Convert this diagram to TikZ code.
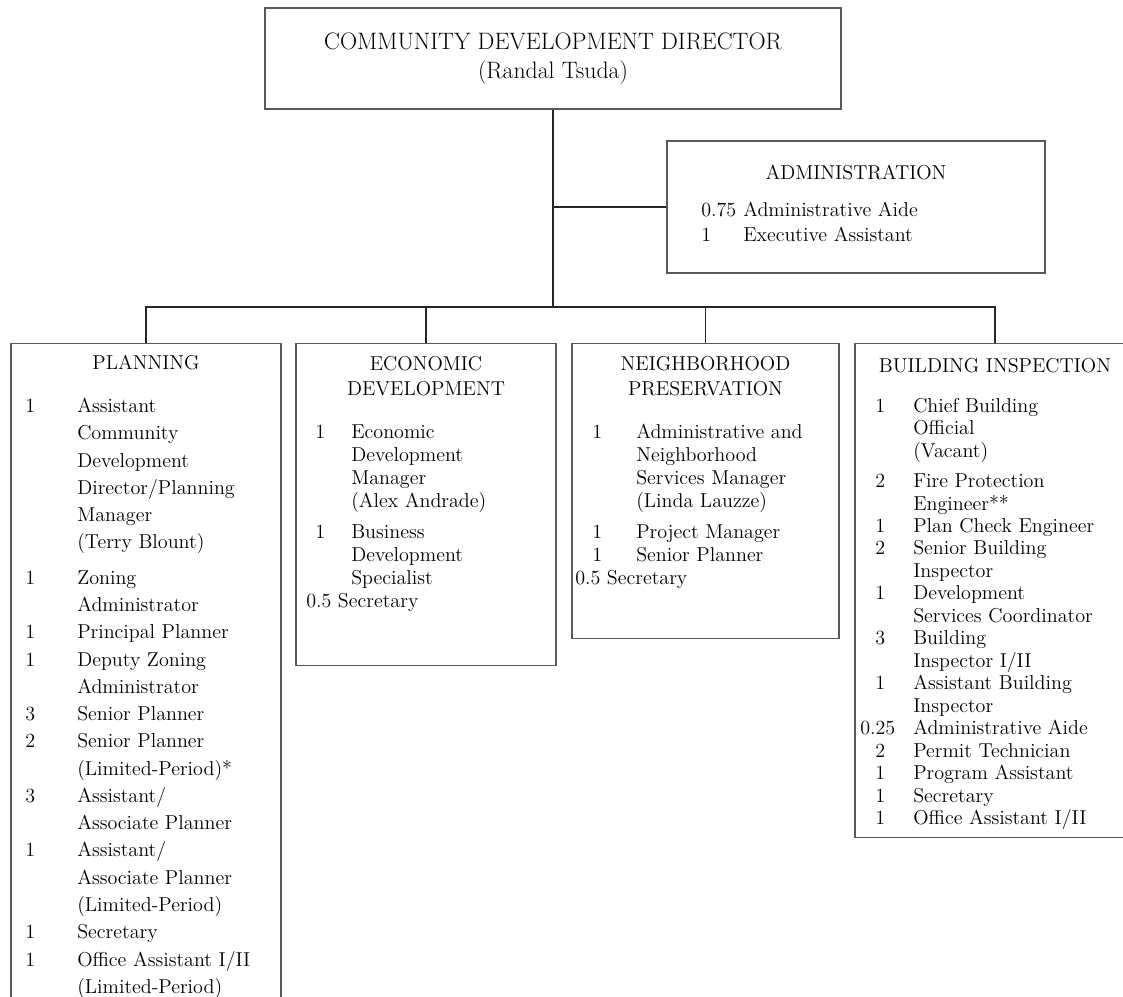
\documentclass[tikz,border=0pt]{standalone}
\usepackage{array}
\newcommand{\orgfont}{\fontsize{14.3}{18.1}\selectfont}

\begin{document}
\begin{tikzpicture}[font=\orgfont,
    boss/.style={rectangle, draw=black!65, line width=0.9pt, align=center,
                 font=\fontsize{16.9}{20.6}\selectfont},
    dept/.style={rectangle, draw=black!65, line width=0.9pt, anchor=north},
    head/.style={align=center, inner sep=0pt},
    roster/.style={anchor=north west, inner sep=0pt},
    link/.style={draw=black!85, line width=0.8pt}]

    \useasboundingbox (0,0) rectangle (28.075,-24.9);

    \node (dir)   [boss, minimum width=14.4cm, minimum height=2.525cm] at (13.825,-1.4625)
                  {COMMUNITY DEVELOPMENT DIRECTOR\\ (Randal Tsuda)};
    \node (adm)   [dept, anchor=center, minimum width=9.45cm, minimum height=3.3cm] at (21.4,-5.175) {};
    \node (plan)  [dept, minimum width=6.75cm,  minimum height=16.7cm]   at (3.65,-8.5625)    {};
    \node (econ)  [dept, minimum width=6.5cm,   minimum height=8.0625cm] at (10.65,-8.5625)   {};
    \node (neigh) [dept, minimum width=6.675cm, minimum height=7.3875cm] at (17.6375,-8.5625) {};
    \node (bldg)  [dept, minimum width=7.0cm,   minimum height=12.36cm]  at (24.875,-8.5625)  {};

    % naslovi
    \node (admH)   [head] at (21.4,-4.325)      {ADMINISTRATION};
    \node (planH)  [head] at (3.65,-9.07)       {PLANNING};
    \node (econH)  [head] at (10.65,-9.4)       {ECONOMIC\\ DEVELOPMENT};
    \node (neighH) [head] at (17.6375,-9.4)     {NEIGHBORHOOD\\ PRESERVATION};
    \node (bldgH)  [head] at (24.875,-9.15)     {BUILDING INSPECTION};

    % spiskovi
    \node (admL) [roster] at (17.525,-4.95) {\begin{tabular}{@{}p{1.05cm}@{}l@{}}
        0.75 & Administrative Aide\\
        1    & Executive Assistant
    \end{tabular}};
    \node (planL) [roster, font=\fontsize{14.3}{19.4}\selectfont] at (0.625,-9.83) {\begin{tabular}{@{}p{1.3cm}@{}l@{}}
        1 & Assistant\\
          & Community\\
          & Development\\
          & Director/Planning\\
          & Manager\\
          & (Terry Blount)\\[0.2cm]
        1 & Zoning\\
          & Administrator\\
        1 & Principal Planner\\
        1 & Deputy Zoning\\
          & Administrator\\
        3 & Senior Planner\\
        2 & Senior Planner\\
          & (Limited-Period)*\\
        3 & Assistant/\\
          & Associate Planner\\
        1 & Assistant/\\
          & Associate Planner\\
          & (Limited-Period)\\
        1 & Secretary\\
        1 & Office Assistant I/II\\
          & (Limited-Period)
    \end{tabular}};
    \node (econL) [roster, font=\fontsize{14.3}{16.35}\selectfont] at (7.875,-10.55) {\begin{tabular}{@{}p{0.9cm}@{}l@{}}
        1 & Economic\\
          & Development\\
          & Manager\\
          & (Alex Andrade)\\[0.2cm]
        1 & Business\\
          & Development\\
          & Specialist\\
        \multicolumn{2}{@{}l@{}}{\hspace{-0.225cm}0.5 Secretary}
    \end{tabular}};
    \node (neighL) [roster, font=\fontsize{14.3}{16.35}\selectfont] at (14.8,-10.55) {\begin{tabular}{@{}p{1.1cm}@{}l@{}}
        1 & Administrative and\\
          & Neighborhood\\
          & Services Manager\\
          & (Linda Lauzze)\\[0.2cm]
        1 & Project Manager\\
        1 & Senior Planner\\
        \multicolumn{2}{@{}l@{}}{\hspace{-0.425cm}0.5 Secretary}
    \end{tabular}};
    \node (bldgL) [roster, font=\fontsize{14.3}{16.0}\selectfont] at (21.875,-9.9) {\begin{tabular}{@{}p{0.95cm}@{}l@{}}
        1 & Chief Building\\
          & Official\\
          & (Vacant)\\[0.2cm]
        2 & Fire Protection\\
          & Engineer**\\
        1 & Plan Check Engineer\\
        2 & Senior Building\\
          & Inspector\\
        1 & Development\\
          & Services Coordinator\\
        3 & Building\\
          & Inspector I/II\\
        1 & Assistant Building\\
          & Inspector\\
        \hspace{-0.375cm}0.25 & Administrative Aide\\
        2 & Permit Technician\\
        1 & Program Assistant\\
        1 & Secretary\\
        1 & Office Assistant I/II
    \end{tabular}};

    % veze
    \coordinate (hub) at (13.825,-7.675);
    \draw [link] (dir) -- (hub);
    \draw [link] (dir.south |- adm.west) -- (adm.west);
    \draw [link] (plan.north) |- (hub) -| (bldg.north);
    \draw [link] (econ.north) -- (econ.north |- hub);
    \draw [link] (neigh.north) -- (neigh.north |- hub);
\end{tikzpicture}
\end{document}
